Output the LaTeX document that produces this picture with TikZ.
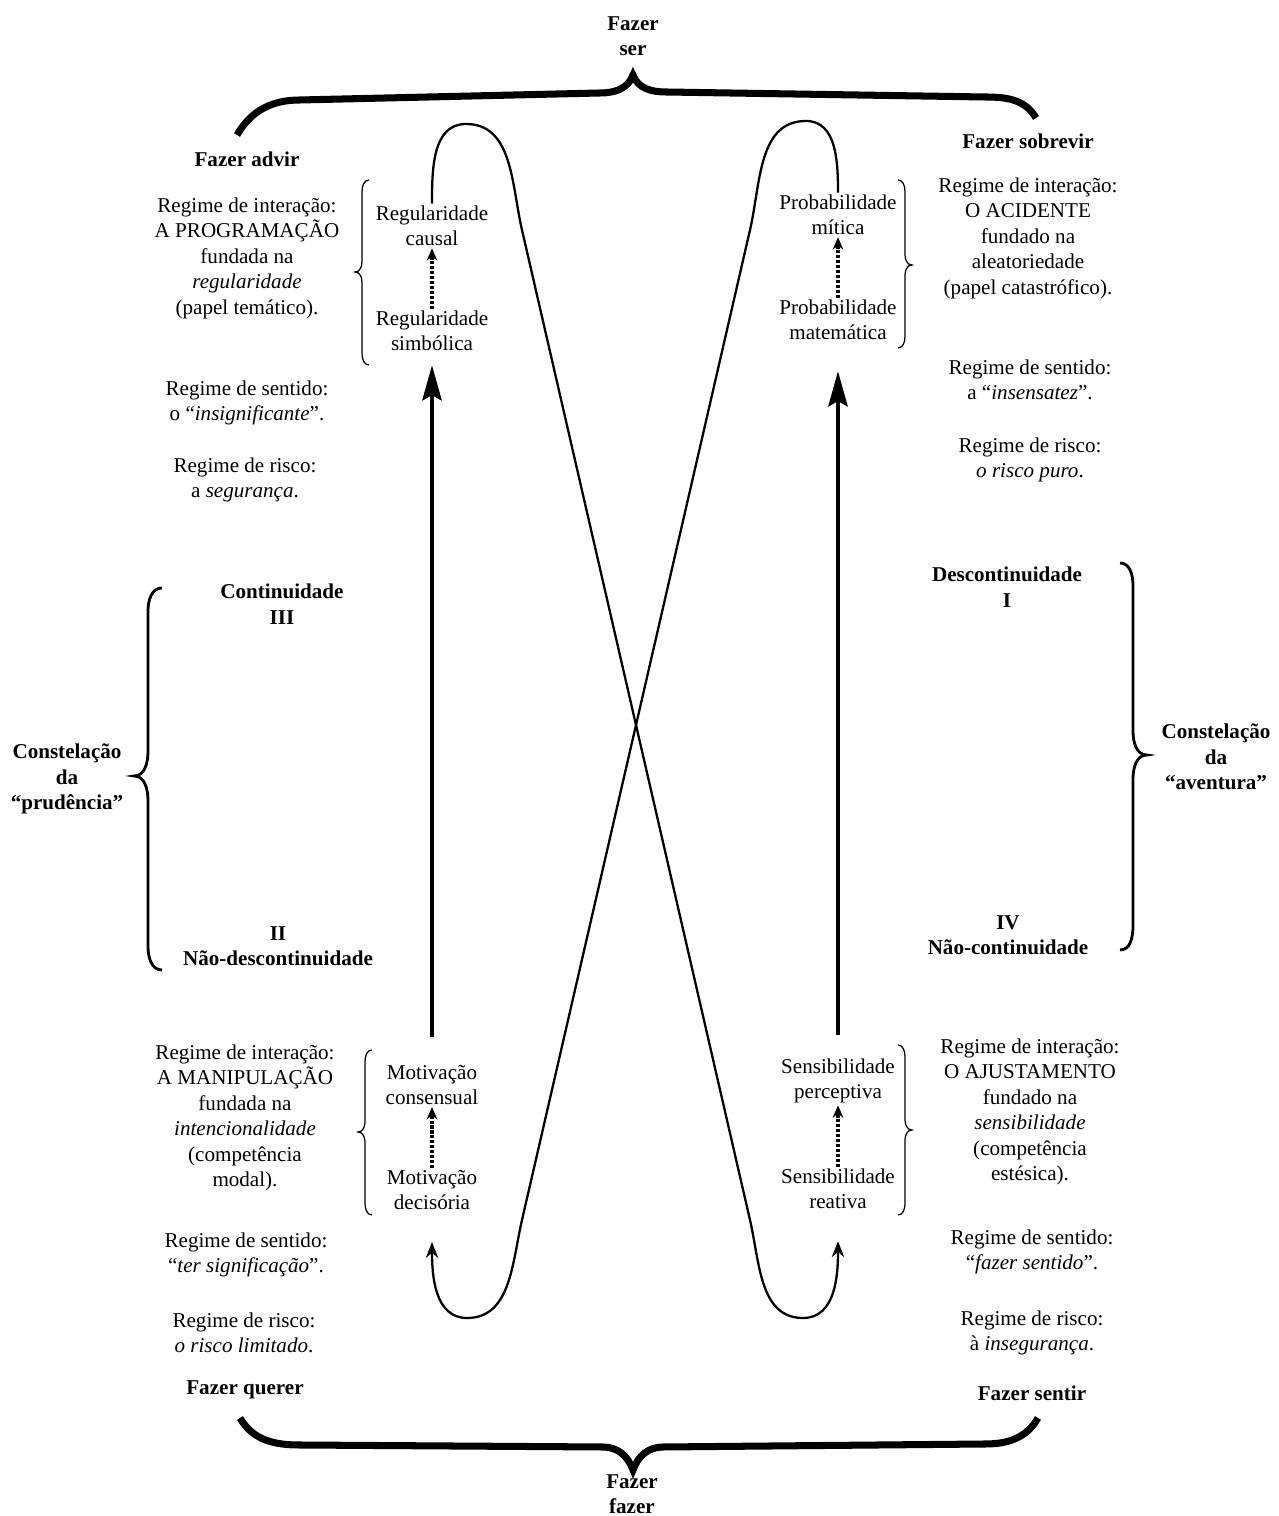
\documentclass[tikz,border=0pt,12pt]{standalone}
\usepackage{fontspec}
\setmainfont{Liberation Serif}
\usetikzlibrary{arrows.meta}

\begin{document}
\begin{tikzpicture}[x=0.02cm,y=0.02cm,
    txt/.style={align=center,inner sep=1pt},
    head/.style={align=center,inner sep=1pt,font=\bfseries},
    bigbrace/.style={line width=4pt},
    sidebrace/.style={line width=1.6pt},
    smallbrace/.style={line width=0.7pt},
    loopline/.style={line width=1.3pt,-{Stealth[length=9pt,width=7pt]}},
    bigarrow/.style={line width=2pt,-{Stealth[length=20pt,width=11pt,inset=3pt]}},
    dotarrow/.style={densely dotted,line width=1.8pt,-{Stealth[length=7pt,width=6pt]}}]
    \useasboundingbox (0,0) rectangle (1279,1516);
    % top and bottom labels
    \node[head] (fazerser) at (633,1480) {Fazer\\ser};
    \node[head] (fazerfazer) at (632,22) {Fazer\\fazer};
    \node[head] (advir) at (247,1357) {Fazer advir};
    \node[head] (sobrevir) at (1028,1375) {Fazer sobrevir};
    \node[head] (querer) at (245,126) {Fazer querer};
    \node[head] (sentir) at (1032,123) {Fazer sentir};
    % upper left
    \node[txt] (intprog) at (247,1258) {Regime de interação:\\A PROGRAMAÇÃO\\fundada na\\\textit{regularidade}\\(papel temático).};
    \node[txt] (sentprog) at (247,1113) {Regime de sentido:\\o “\textit{insignificante}”.};
    \node[txt] (riscprog) at (245,1036) {Regime de risco:\\a \textit{segurança}.};
    \node[txt] (regcausal) at (432,1290) {Regularidade\\causal};
    \node[txt] (regsimb) at (432,1185) {Regularidade\\simbólica};
    % upper right
    \node[txt] (intacid) at (1028,1278) {Regime de interação:\\O ACIDENTE\\fundado na\\aleatoriedade\\(papel catastrófico).};
    \node[txt] (sentacid) at (1030,1136) {Regime de sentido:\\a “\textit{insensatez}”.};
    \node[txt] (riscacid) at (1030,1056) {Regime de risco:\\\textit{o risco puro}.};
    \node[txt] (probmit) at (838,1301) {Probabilidade\\mítica};
    \node[txt] (probmat) at (838,1196) {Probabilidade\\matemática};
    % middle
    \node[head] (contIII) at (282,912) {Continuidade\\III};
    \node[head] (naodesc) at (278,570) {II\\Não-descontinuidade};
    \node[head] (prud) at (67,737) {Constelação\\da\\“prudência”};
    \node[head] (descI) at (1007,929) {Descontinuidade\\I};
    \node[head] (naocont) at (1008,581) {IV\\Não-continuidade};
    \node[head] (avent) at (1216,759) {Constelação\\da\\“aventura”};
    % lower left
    \node[txt] (intmanip) at (245,398) {Regime de interação:\\A MANIPULAÇÃO\\fundada na\\\textit{intencionalidade}\\(competência\\modal).};
    \node[txt] (sentmanip) at (246,261) {Regime de sentido:\\“\textit{ter significação}”.};
    \node[txt] (riscmanip) at (244,183) {Regime de risco:\\\textit{o risco limitado}.};
    \node[txt] (motcons) at (432,431) {Motivação\\consensual};
    \node[txt] (motdec) at (432,326) {Motivação\\decisória};
    % lower right
    \node[txt] (intajust) at (1030,404) {Regime de interação:\\O AJUSTAMENTO\\fundado na\\\textit{sensibilidade}\\(competência\\estésica).};
    \node[txt] (sentajust) at (1032,264) {Regime de sentido:\\“\textit{fazer sentido}”.};
    \node[txt] (riscajust) at (1032,183) {Regime de risco:\\à \textit{insegurança}.};
    \node[txt] (sensperc) at (838,435) {Sensibilidade\\perceptiva};
    \node[txt] (sensreat) at (838,327) {Sensibilidade\\reativa};
    % arrows
    \draw[bigarrow] ([yshift=0.52cm]motcons.north) -- ([yshift=-0.24cm]regsimb.south);
    \draw[bigarrow] ([yshift=0.44cm]sensperc.north) -- ([yshift=-0.58cm]probmat.south);
    \draw[dotarrow] (regsimb) -- (regcausal);
    \draw[dotarrow] (probmat) -- (probmit);
    \draw[dotarrow] (motdec) -- (motcons);
    \draw[dotarrow] (sensreat) -- (sensperc);
    % the two loops
    \draw[loopline] (regcausal.north) to[out=90,in=180] (466,1392) to[out=0,in=103] (522,1286) -- (750,296) to[out=283,in=180] (803,198) to[out=0,in=270] ([yshift=-0.6cm]sensreat.south);
    \draw[loopline] (probmit.north) to[out=90,in=0] (806,1395) to[out=180,in=77] (750,1286) -- (522,296) to[out=257,in=0] (467,198) to[out=180,in=270] ([yshift=-0.6cm]motdec.south);
    % braces
    \draw[bigbrace] (237,1381) to[out=60,in=180] (300,1416) -- (600,1423) to[out=0,in=250] (633,1441) to[out=290,in=180] (666,1424) -- (985,1419) to[out=0,in=120] (1036,1398);
    \draw[bigbrace] (240,98) to[out=-60,in=180] (300,71) -- (603,69) to[out=0,in=110] (633,46) to[out=70,in=180] (663,69) -- (985,72) to[out=0,in=240] (1038,98);
    \draw[sidebrace] (162,928) to[out=180,in=90] (148,905) -- (148,765) to[out=270,in=0] (134,740) to[out=0,in=90] (148,715) -- (148,570) to[out=270,in=180] (162,546);
    \draw[sidebrace] (1120,953) to[out=0,in=90] (1133,930) -- (1133,785) to[out=270,in=180] (1147,761) to[out=180,in=90] (1133,737) -- (1133,590) to[out=270,in=0] (1120,566);
    \draw[smallbrace] (369,1336) to[out=180,in=90] (362,1324) -- (362,1254) to[out=270,in=0] (355,1244) to[out=0,in=90] (362,1234) -- (362,1163) to[out=270,in=180] (369,1151);
    \draw[smallbrace] (372,466) to[out=180,in=90] (365,454) -- (365,394) to[out=270,in=0] (358,384) to[out=0,in=90] (365,374) -- (365,313) to[out=270,in=180] (372,301);
    \draw[smallbrace] (898,1336) to[out=0,in=90] (905,1324) -- (905,1261) to[out=270,in=180] (912,1251) to[out=180,in=90] (905,1241) -- (905,1180) to[out=270,in=0] (898,1168);
    \draw[smallbrace] (898,471) to[out=0,in=90] (905,459) -- (905,396) to[out=270,in=180] (912,386) to[out=180,in=90] (905,376) -- (905,313) to[out=270,in=0] (898,301);
\end{tikzpicture}
\end{document}
